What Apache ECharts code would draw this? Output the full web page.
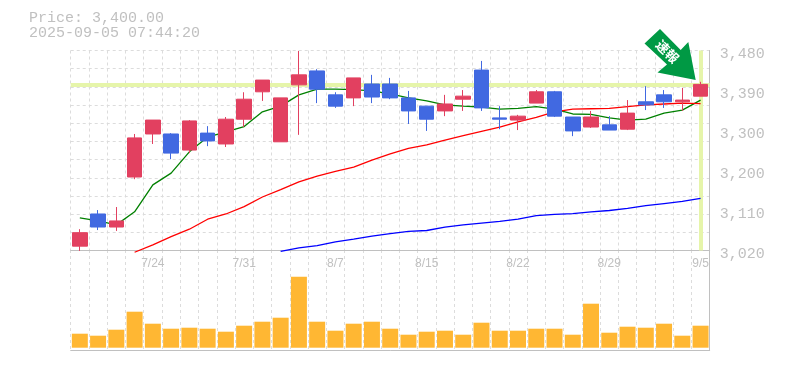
<!DOCTYPE html>
<html>
<head>
<meta charset="utf-8">
<style>html,body{margin:0;padding:0;background:#fff}#c{width:785px;height:370px}</style>
<script src="https://cdn.jsdelivr.net/npm/echarts@6/dist/echarts.min.js"></script>
</head>
<body>
<div id="c"></div>
<script>
const dates = ['7/17','7/18','7/22','7/23','7/24','7/25','7/28','7/29','7/30','7/31','8/1','8/4','8/5','8/6','8/7','8/8','8/12','8/13','8/14','8/15','8/18','8/19','8/20','8/21','8/22','8/25','8/26','8/27','8/28','8/29','9/1','9/2','9/3','9/4','9/5'];
// open, close, low, high
const candles = [
[3030,3061,3019,3069],[3104,3074,3067,3113],[3074,3088,3065,3120],[3189,3279,3184,3288],[3288,3320,3265,3320],
[3288,3244,3230,3290],[3251,3318,3244,3320],[3290,3272,3260,3306],[3265,3322,3258,3327],[3322,3368,3304,3384],
[3385,3412,3364,3412],[3270,3371,3270,3371],[3401,3424,3286,3479],[3433,3391,3359,3437],[3378,3352,3348,3384],
[3371,3417,3352,3417],[3403,3373,3359,3424],[3403,3371,3368,3417],[3371,3341,3311,3387],[3352,3322,3295,3352],
[3341,3357,3329,3378],[3368,3375,3341,3389],[3435,3348,3341,3456],[3325,3322,3299,3352],[3320,3329,3297,3332],
[3359,3385,3359,3389],[3385,3329,3327,3387],[3327,3295,3283,3327],[3304,3327,3302,3341],[3309,3297,3297,3329],
[3299,3336,3297,3366],[3362,3355,3343,3398],[3378,3362,3348,3389],[3362,3366,3341,3394],[3375,3402,3375,3408]];
const maShort = [3095,3088,3079,3109,3171,3198,3247,3281,3293,3305,3339,3352,3378,3391,3391,3390,3387,3380,3371,3364,3355,3352,3350,3345,3347,3351,3345,3334,3333,3325,3320,3322,3336,3343,3366];
const maMid = [null,null,null,3016,3033,3052,3069,3092,3104,3121,3143,3160,3178,3191,3202,3212,3228,3242,3255,3263,3274,3284,3294,3304,3316,3326,3339,3345,3346,3347,3351,3355,3357,3359,3358];
const maLong = [null,null,null,null,null,null,null,null,null,null,null,3018,3026,3031,3040,3046,3053,3059,3064,3066,3074,3079,3083,3087,3092,3100,3103,3105,3109,3112,3117,3123,3128,3133,3140];
const volumes = [14,12,18,36,24,19,20,19,16,22,26,30,71,26,17,24,26,19,13,16,17,13,25,17,17,19,19,13,44,15,21,20,24,12,22];
const priceTicks = [3020,3112,3204,3296,3388,3480];
const priceTickLabels = ['3,020','3,110','3,200','3,300','3,390','3,480'];
const gridLines = [3020,3061.8,3103.6,3145.5,3187.3,3229.1,3270.9,3312.7,3354.5,3396.4,3438.2,3480];
const lastPrice = 3402;
const titleLines = 'Price: 3,400.00\n2025-09-05 07:44:20';
const badge = '速報';

const GRAY='#c0c0c0', DASH='#dcdcdc', PALE='#e6f5aa', UP='#e24060', DOWN='#4169e1';
const chart = echarts.init(document.getElementById('c'),null,{renderer:'canvas'});
const dashLine={show:true,interval:0,lineStyle:{color:DASH,type:[3,3],width:1}};
const L=70.7,W=639;
chart.setOption({
  animation:false,
  backgroundColor:'#fff',
  title:{left:29,top:11,padding:0,text:titleLines,textStyle:{fontFamily:'Liberation Mono',fontSize:15,fontWeight:'normal',color:GRAY,lineHeight:15}},
  grid:[{left:L,width:W,top:50.5,height:200},{left:L,width:W,top:250,height:100}],
  xAxis:[
    {type:'category',gridIndex:0,data:dates,boundaryGap:true,
     axisLine:{show:true,onZero:false,lineStyle:{color:GRAY,width:1}},axisTick:{show:false,interval:0},
     axisLabel:{interval:(i)=>i%5===4,color:GRAY,fontFamily:'Liberation Sans',fontSize:12,margin:7},splitLine:dashLine},
    {type:'category',gridIndex:1,data:dates,boundaryGap:true,
     axisLine:{show:true,onZero:false,lineStyle:{color:GRAY,width:1}},axisTick:{show:false,interval:0},
     axisLabel:{show:false},splitLine:dashLine}
  ],
  yAxis:[
    {type:'value',gridIndex:0,position:'right',min:3020,max:3480,
     axisLine:{show:true,lineStyle:{color:GRAY,width:1}},
     axisTick:{show:false,customValues:gridLines},
     axisLabel:{customValues:priceTicks,margin:10,color:GRAY,fontFamily:'Liberation Mono',fontSize:15,verticalAlign:'top',lineHeight:8,
       formatter:(v)=>priceTickLabels[priceTicks.indexOf(v)]},
     splitLine:{show:true,lineStyle:{color:DASH,type:[3,3],width:1}}},
    {type:'value',gridIndex:1,position:'right',min:-2.3,max:97.7,
     axisLine:{show:true,lineStyle:{color:GRAY,width:1}},axisTick:{show:false},axisLabel:{show:false},splitLine:{show:false}}
  ],
  series:[
    {type:'line',xAxisIndex:0,yAxisIndex:0,data:[],z:1,silent:true,
     markLine:{silent:true,z:1,symbol:'none',label:{show:false},animation:false,
       lineStyle:{color:PALE,width:4,type:'solid'},
       data:[{yAxis:lastPrice},{xAxis:dates[dates.length-1]}]}},
    {type:'line',name:'short',xAxisIndex:0,yAxisIndex:0,data:maShort,showSymbol:false,symbol:'none',clip:false,z:2,lineStyle:{color:'#008000',width:1.3}},
    {type:'line',name:'mid',xAxisIndex:0,yAxisIndex:0,data:maMid,showSymbol:false,symbol:'none',clip:false,z:2,lineStyle:{color:'#ff0000',width:1.3}},
    {type:'line',name:'long',xAxisIndex:0,yAxisIndex:0,data:maLong,showSymbol:false,symbol:'none',clip:false,z:2,lineStyle:{color:'#0000ff',width:1.3}},
    {type:'candlestick',xAxisIndex:0,yAxisIndex:0,data:candles,barWidth:15,clip:false,z:3,
     itemStyle:{color:UP,color0:DOWN,borderColor:UP,borderColor0:DOWN,borderWidth:1}},
    {type:'bar',xAxisIndex:1,yAxisIndex:1,data:volumes,barWidth:16,itemStyle:{color:'#ffb733'}}
  ],
  graphic:[
    {type:'polygon',z:10,silent:true,shape:{points:[[660,29],[644.5,43.5],[667,64.5],[657.5,72.5],[695.7,80],[688.3,42],[680.7,50]]},style:{fill:'#009944'}},
    {type:'text',z:11,silent:true,x:667.5,y:51.5,rotation:-Math.PI/4,style:{text:badge,fill:'#fff',font:'bold 13px "Noto Sans CJK JP"',align:'center',verticalAlign:'middle'}}
  ]
});
</script>
</body>
</html>
